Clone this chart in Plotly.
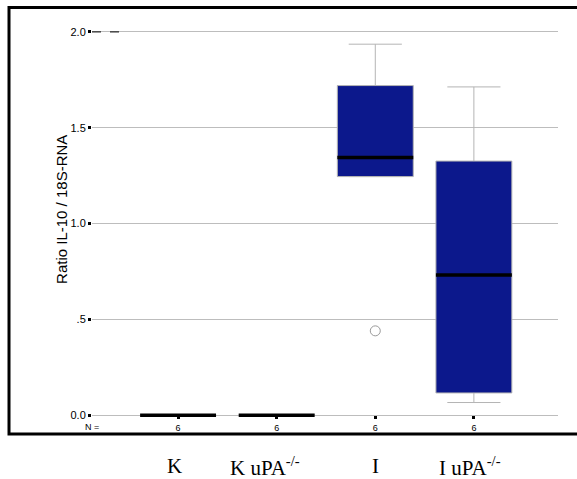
import plotly.graph_objects as go

# ---- data ----
categories = ["K", "K uPA<sup>-/-</sup>", "I", "I uPA<sup>-/-</sup>"]
n_labels = ["6", "6", "6", "6"]
q1 = [0.0, 0.0, 1.245, 0.116]
medians = [0.0, 0.0, 1.344, 0.731]
q3 = [0.0, 0.0, 1.72, 1.326]
lower_whisker = [0.0, 0.0, 1.245, 0.066]
upper_whisker = [0.0, 0.0, 1.936, 1.713]
outlier_group = [2]
outlier_values = [0.44]
y_tick_vals = [0.0, 0.5, 1.0, 1.5, 2.0]
y_tick_text = ["0.0", ".5", "1.0", "1.5", "2.0"]
y_title = "Ratio IL-10 / 18S-RNA"

BOX_W = 0.77
NAVY = "#0c188c"
GREY = "#b4b4b4"

positions = list(range(len(categories)))

fig = go.Figure()
for i in positions:
    fig.add_trace(go.Box(
        x=[i], q1=[q1[i]], median=[medians[i]], q3=[q3[i]],
        lowerfence=[lower_whisker[i]], upperfence=[upper_whisker[i]],
        width=BOX_W, whiskerwidth=0.7, fillcolor=NAVY,
        line=dict(color=GREY, width=1), boxpoints=False,
        showlegend=False, hoverinfo="skip",
    ))

# median bars (thick black)
mx, my = [], []
for i in positions:
    mx += [i - BOX_W / 2, i + BOX_W / 2, None]
    my += [medians[i], medians[i], None]
fig.add_trace(go.Scatter(x=mx, y=my, mode="lines",
                         line=dict(color="black", width=3.5),
                         showlegend=False, hoverinfo="skip"))

# outliers
fig.add_trace(go.Scatter(x=outlier_group, y=outlier_values, mode="markers",
                         marker=dict(symbol="circle-open", size=10,
                                     color="#9a9a9a", line=dict(width=1)),
                         showlegend=False, hoverinfo="skip"))

fig.update_layout(
    width=577, height=479,
    margin=dict(l=92, r=19, t=30, b=60),
    paper_bgcolor="white", plot_bgcolor="white",
    font=dict(family="Liberation Sans, Arial, sans-serif", color="black"),
    xaxis=dict(
        range=[-0.873, 3.853], tickmode="array", tickvals=positions,
        ticktext=n_labels, showgrid=False, zeroline=False, showline=False,
        ticks="inside", ticklen=3, tickwidth=3, tickcolor="black",
        tickfont=dict(size=9), ticklabelstandoff=2,
    ),
    yaxis=dict(
        range=[-0.02, 2.01], tickmode="array", tickvals=y_tick_vals,
        ticktext=y_tick_text, showgrid=True, gridcolor="#bdbdbd", gridwidth=1,
        zeroline=False, showline=False,
        ticks="outside", ticklen=3, tickwidth=3, tickcolor="black",
        tickfont=dict(size=11),
    ),
)

# outer frame
fig.add_shape(type="rect", xref="paper", yref="paper",
              x0=-0.1781, x1=1.08, y0=-0.0388, y1=1.058,
              line=dict(color="black", width=3), fillcolor="rgba(0,0,0,0)")

# small dashed piece at top gridline
fig.add_shape(type="line", xref="paper", yref="y",
              x0=0, x1=0.064, y0=y_tick_vals[-1], y1=y_tick_vals[-1],
              line=dict(color="black", width=1, dash="dash"))

# y title
fig.add_annotation(text=y_title, xref="paper", yref="paper",
                   x=-0.0644, y=0.54, textangle=-90, showarrow=False,
                   font=dict(size=15), xanchor="center", yanchor="middle")

# N =
fig.add_annotation(text="N =", xref="paper", yref="paper", x=0, y=-0.021,
                   showarrow=False, font=dict(size=9),
                   xanchor="center", yanchor="middle")

# category labels below frame
shifts = [-4, -12, 0, -4]
for i in positions:
    fig.add_annotation(text=categories[i], xref="x", yref="paper",
                       x=i, y=-0.121, showarrow=False, xshift=shifts[i],
                       font=dict(size=21, family="Liberation Serif, Times New Roman, serif"),
                       xanchor="center", yanchor="middle")

fig.write_html("out.html")
